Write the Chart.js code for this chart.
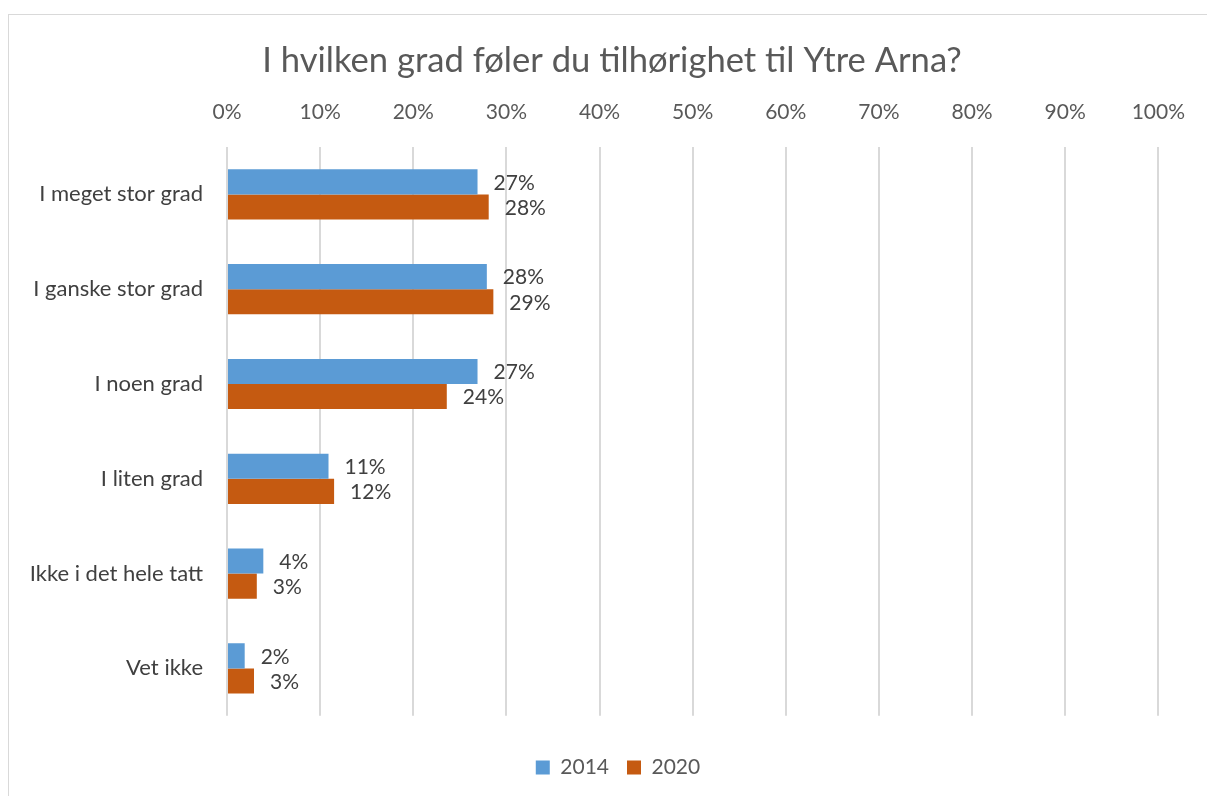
<!DOCTYPE html>
<html>
<head>
<meta charset="utf-8">
<script src="https://cdn.jsdelivr.net/npm/chart.js@4/dist/chart.umd.min.js"></script>
<style>
  html, body { margin: 0; padding: 0; background: #fff; }
  #wrap { width: 1207px; height: 796px; position: relative; }
</style>
</head>
<body>
<div id="wrap"><canvas id="c" width="1207" height="796"></canvas></div>
<script>
const chartTitle = 'I hvilken grad føler du tilhørighet til Ytre Arna?';
const categories = ['I meget stor grad', 'I ganske stor grad', 'I noen grad', 'I liten grad', 'Ikke i det hele tatt', 'Vet ikke'];
const seriesNames = ['2014', '2020'];
const values2014 = [26.9, 27.9, 26.9, 10.9, 3.9, 1.9];
const values2020 = [28.1, 28.6, 23.6, 11.5, 3.2, 2.9];
const labels2014 = ['27%', '28%', '27%', '11%', '4%', '2%'];
const labels2020 = ['28%', '29%', '24%', '12%', '3%', '3%'];
const xTicks = [0, 10, 20, 30, 40, 50, 60, 70, 80, 90, 100];

const FONT = 'Lato, "Open Sans", sans-serif';
const textColor = '#595959';

const decor = {
  id: 'decor',
  afterLayout(chart) {
    if (chart.legend) {
      chart.legend.left = 73;
    }
  },
  beforeDraw(chart) {
    const ctx = chart.ctx;
    ctx.save();
    ctx.fillStyle = '#fff';
    ctx.fillRect(0, 0, chart.width, chart.height);
    ctx.strokeStyle = '#d9d9d9';
    ctx.lineWidth = 1;
    ctx.strokeRect(8.5, 14.5, 1400, 1000);
    ctx.fillStyle = textColor;
    ctx.font = '34.6px ' + FONT;
    ctx.textAlign = 'center';
    ctx.textBaseline = 'middle';
    ctx.fillText(chartTitle, 612, 61);
    ctx.restore();
  },
  afterDatasetsDraw(chart) {
    const ctx = chart.ctx;
    const lbls = [labels2014, labels2020];
    ctx.save();
    ctx.fillStyle = '#404040';
    ctx.font = '21px ' + FONT;
    ctx.textAlign = 'left';
    ctx.textBaseline = 'middle';
    chart.data.datasets.forEach((ds, di) => {
      const meta = chart.getDatasetMeta(di);
      meta.data.forEach((el, i) => {
        ctx.fillText(lbls[di][i], el.x + 16, el.y + 1);
      });
    });
    ctx.restore();
  }
};

new Chart(document.getElementById('c'), {
  type: 'bar',
  data: {
    labels: categories,
    datasets: [
      { label: seriesNames[0], data: values2014, backgroundColor: '#5b9bd5', borderWidth: 0 },
      { label: seriesNames[1], data: values2020, backgroundColor: '#c55a11', borderWidth: 0 }
    ]
  },
  options: {
    indexAxis: 'y',
    responsive: false,
    animation: false,
    devicePixelRatio: 1,
    layout: { padding: { top: 80, right: 44, bottom: 8, left: 0 } },
    datasets: { bar: { categoryPercentage: 0.53, barPercentage: 1 } },
    scales: {
      x: {
        position: 'top',
        min: 0, max: 100,
        afterBuildTicks(scale) { scale.ticks = xTicks.map(v => ({ value: v })); },
        afterFit(scale) { scale.height = 67; },
        grid: { color: '#d9d9d9', lineWidth: 2, drawTicks: false },
        border: { display: false },
        ticks: { color: textColor, font: { family: FONT, size: 21 }, padding: 22, callback: v => v + '%' }
      },
      y: {
        afterFit(scale) { scale.width = 227; },
        grid: { display: false, drawTicks: false },
        border: { display: false },
        ticks: { color: '#404040', font: { family: FONT, size: 22 }, padding: 24 }
      }
    },
    plugins: {
      title: { display: false },
      tooltip: { enabled: false },
      legend: {
        position: 'bottom',
        title: { display: true, text: '', font: { size: 1 }, padding: { top: 22, bottom: 0 } },
        labels: { color: textColor, font: { family: FONT, size: 21 }, boxWidth: 14, boxHeight: 14, padding: 18 }
      }
    }
  },
  plugins: [decor]
});
</script>
</body>
</html>
